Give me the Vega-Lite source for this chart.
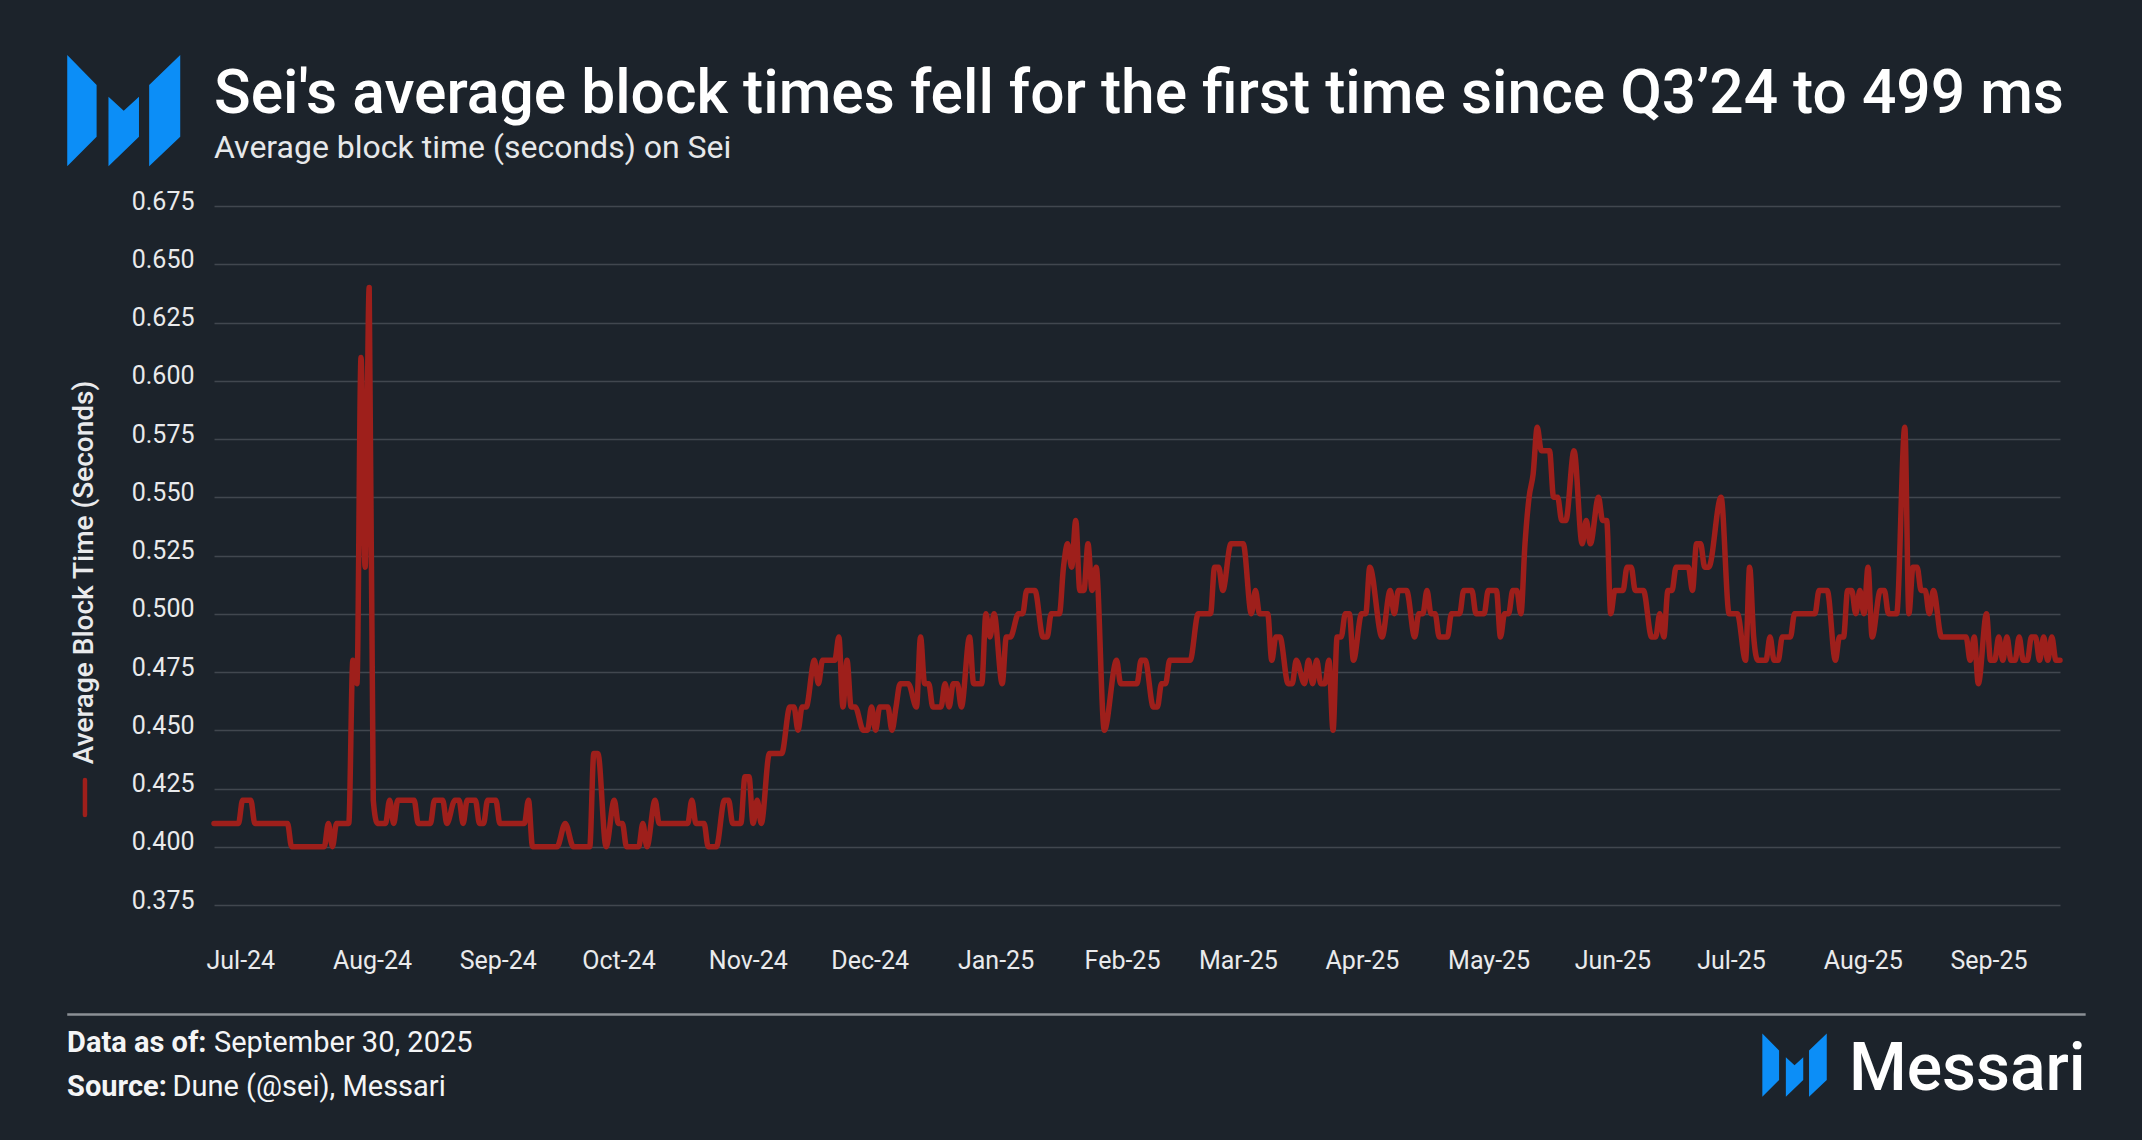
{
  "$schema": "https://vega.github.io/schema/vega-lite/v6.json",
  "width": 1846,
  "height": 699,
  "autosize": "none",
  "padding": {"left": 214, "top": 206, "right": 82, "bottom": 235},
  "background": "#1c232b",
  "title": {
    "text": "Sei's average block times fell for the first time since Q3’24 to 499 ms",
    "subtitle": "Average block time (seconds) on Sei",
    "anchor": "start",
    "frame": "group",
    "font": "Roboto",
    "fontSize": 60.5,
    "fontWeight": 500,
    "color": "#ffffff",
    "subtitleFont": "Roboto",
    "subtitleFontSize": 32,
    "subtitleColor": "#e6e8ea",
    "subtitlePadding": 7,
    "offset": -109
  },
  "datasets": {
    "sei": [
      {"date": "2024-07-01", "sec": 0.41}, {"date": "2024-07-07", "sec": 0.41}, {"date": "2024-07-08", "sec": 0.42}, {"date": "2024-07-10", "sec": 0.42},
      {"date": "2024-07-11", "sec": 0.41}, {"date": "2024-07-19", "sec": 0.41}, {"date": "2024-07-20", "sec": 0.40}, {"date": "2024-07-28", "sec": 0.40},
      {"date": "2024-07-29", "sec": 0.41}, {"date": "2024-07-30", "sec": 0.40}, {"date": "2024-07-31", "sec": 0.41}, {"date": "2024-08-03", "sec": 0.41},
      {"date": "2024-08-04", "sec": 0.48}, {"date": "2024-08-05", "sec": 0.47}, {"date": "2024-08-06", "sec": 0.61}, {"date": "2024-08-07", "sec": 0.52},
      {"date": "2024-08-08", "sec": 0.64}, {"date": "2024-08-09", "sec": 0.42}, {"date": "2024-08-10", "sec": 0.41}, {"date": "2024-08-12", "sec": 0.41},
      {"date": "2024-08-13", "sec": 0.42}, {"date": "2024-08-14", "sec": 0.41}, {"date": "2024-08-15", "sec": 0.42}, {"date": "2024-08-19", "sec": 0.42},
      {"date": "2024-08-20", "sec": 0.41}, {"date": "2024-08-23", "sec": 0.41}, {"date": "2024-08-24", "sec": 0.42}, {"date": "2024-08-26", "sec": 0.42},
      {"date": "2024-08-27", "sec": 0.41}, {"date": "2024-08-29", "sec": 0.42}, {"date": "2024-08-30", "sec": 0.42}, {"date": "2024-08-31", "sec": 0.41},
      {"date": "2024-09-01", "sec": 0.42}, {"date": "2024-09-03", "sec": 0.42}, {"date": "2024-09-04", "sec": 0.41}, {"date": "2024-09-05", "sec": 0.41},
      {"date": "2024-09-06", "sec": 0.42}, {"date": "2024-09-08", "sec": 0.42}, {"date": "2024-09-09", "sec": 0.41}, {"date": "2024-09-15", "sec": 0.41},
      {"date": "2024-09-16", "sec": 0.42}, {"date": "2024-09-17", "sec": 0.40}, {"date": "2024-09-23", "sec": 0.40}, {"date": "2024-09-25", "sec": 0.41},
      {"date": "2024-09-27", "sec": 0.40}, {"date": "2024-10-01", "sec": 0.40}, {"date": "2024-10-02", "sec": 0.44}, {"date": "2024-10-03", "sec": 0.44},
      {"date": "2024-10-05", "sec": 0.40}, {"date": "2024-10-07", "sec": 0.42}, {"date": "2024-10-08", "sec": 0.41}, {"date": "2024-10-09", "sec": 0.41},
      {"date": "2024-10-10", "sec": 0.40}, {"date": "2024-10-13", "sec": 0.40}, {"date": "2024-10-14", "sec": 0.41}, {"date": "2024-10-15", "sec": 0.40},
      {"date": "2024-10-17", "sec": 0.42}, {"date": "2024-10-18", "sec": 0.41}, {"date": "2024-10-25", "sec": 0.41}, {"date": "2024-10-26", "sec": 0.42},
      {"date": "2024-10-27", "sec": 0.41}, {"date": "2024-10-29", "sec": 0.41}, {"date": "2024-10-30", "sec": 0.40}, {"date": "2024-11-01", "sec": 0.40},
      {"date": "2024-11-03", "sec": 0.42}, {"date": "2024-11-04", "sec": 0.42}, {"date": "2024-11-05", "sec": 0.41}, {"date": "2024-11-07", "sec": 0.41},
      {"date": "2024-11-08", "sec": 0.43}, {"date": "2024-11-09", "sec": 0.43}, {"date": "2024-11-10", "sec": 0.41}, {"date": "2024-11-11", "sec": 0.42},
      {"date": "2024-11-12", "sec": 0.41}, {"date": "2024-11-14", "sec": 0.44}, {"date": "2024-11-17", "sec": 0.44}, {"date": "2024-11-19", "sec": 0.46},
      {"date": "2024-11-20", "sec": 0.46}, {"date": "2024-11-21", "sec": 0.45}, {"date": "2024-11-22", "sec": 0.46}, {"date": "2024-11-23", "sec": 0.46},
      {"date": "2024-11-25", "sec": 0.48}, {"date": "2024-11-26", "sec": 0.47}, {"date": "2024-11-27", "sec": 0.48}, {"date": "2024-11-30", "sec": 0.48},
      {"date": "2024-12-01", "sec": 0.49}, {"date": "2024-12-02", "sec": 0.46}, {"date": "2024-12-03", "sec": 0.48}, {"date": "2024-12-04", "sec": 0.46},
      {"date": "2024-12-05", "sec": 0.46}, {"date": "2024-12-07", "sec": 0.45}, {"date": "2024-12-08", "sec": 0.45}, {"date": "2024-12-09", "sec": 0.46},
      {"date": "2024-12-10", "sec": 0.45}, {"date": "2024-12-11", "sec": 0.46}, {"date": "2024-12-13", "sec": 0.46}, {"date": "2024-12-14", "sec": 0.45},
      {"date": "2024-12-15", "sec": 0.46}, {"date": "2024-12-16", "sec": 0.47}, {"date": "2024-12-18", "sec": 0.47}, {"date": "2024-12-20", "sec": 0.46},
      {"date": "2024-12-21", "sec": 0.49}, {"date": "2024-12-22", "sec": 0.47}, {"date": "2024-12-23", "sec": 0.47}, {"date": "2024-12-24", "sec": 0.46},
      {"date": "2024-12-26", "sec": 0.46}, {"date": "2024-12-27", "sec": 0.47}, {"date": "2024-12-28", "sec": 0.46}, {"date": "2024-12-29", "sec": 0.47},
      {"date": "2024-12-30", "sec": 0.47}, {"date": "2024-12-31", "sec": 0.46}, {"date": "2025-01-02", "sec": 0.49}, {"date": "2025-01-03", "sec": 0.47},
      {"date": "2025-01-05", "sec": 0.47}, {"date": "2025-01-06", "sec": 0.50}, {"date": "2025-01-07", "sec": 0.49}, {"date": "2025-01-08", "sec": 0.50},
      {"date": "2025-01-10", "sec": 0.47}, {"date": "2025-01-11", "sec": 0.49}, {"date": "2025-01-12", "sec": 0.49}, {"date": "2025-01-14", "sec": 0.50},
      {"date": "2025-01-15", "sec": 0.50}, {"date": "2025-01-16", "sec": 0.51}, {"date": "2025-01-18", "sec": 0.51}, {"date": "2025-01-20", "sec": 0.49},
      {"date": "2025-01-21", "sec": 0.49}, {"date": "2025-01-22", "sec": 0.50}, {"date": "2025-01-24", "sec": 0.50}, {"date": "2025-01-25", "sec": 0.52},
      {"date": "2025-01-26", "sec": 0.53}, {"date": "2025-01-27", "sec": 0.52}, {"date": "2025-01-28", "sec": 0.54}, {"date": "2025-01-29", "sec": 0.51},
      {"date": "2025-01-30", "sec": 0.51}, {"date": "2025-01-31", "sec": 0.53}, {"date": "2025-02-01", "sec": 0.51}, {"date": "2025-02-02", "sec": 0.52},
      {"date": "2025-02-04", "sec": 0.45}, {"date": "2025-02-07", "sec": 0.48}, {"date": "2025-02-08", "sec": 0.47}, {"date": "2025-02-12", "sec": 0.47},
      {"date": "2025-02-13", "sec": 0.48}, {"date": "2025-02-14", "sec": 0.48}, {"date": "2025-02-16", "sec": 0.46}, {"date": "2025-02-17", "sec": 0.46},
      {"date": "2025-02-18", "sec": 0.47}, {"date": "2025-02-19", "sec": 0.47}, {"date": "2025-02-20", "sec": 0.48}, {"date": "2025-02-25", "sec": 0.48},
      {"date": "2025-02-27", "sec": 0.50}, {"date": "2025-03-02", "sec": 0.50}, {"date": "2025-03-03", "sec": 0.52}, {"date": "2025-03-04", "sec": 0.52},
      {"date": "2025-03-05", "sec": 0.51}, {"date": "2025-03-07", "sec": 0.53}, {"date": "2025-03-10", "sec": 0.53}, {"date": "2025-03-12", "sec": 0.50},
      {"date": "2025-03-13", "sec": 0.51}, {"date": "2025-03-14", "sec": 0.50}, {"date": "2025-03-16", "sec": 0.50}, {"date": "2025-03-17", "sec": 0.48},
      {"date": "2025-03-18", "sec": 0.49}, {"date": "2025-03-19", "sec": 0.49}, {"date": "2025-03-21", "sec": 0.47}, {"date": "2025-03-22", "sec": 0.47},
      {"date": "2025-03-23", "sec": 0.48}, {"date": "2025-03-25", "sec": 0.47}, {"date": "2025-03-26", "sec": 0.48}, {"date": "2025-03-27", "sec": 0.47},
      {"date": "2025-03-28", "sec": 0.48}, {"date": "2025-03-29", "sec": 0.47}, {"date": "2025-03-30", "sec": 0.47}, {"date": "2025-03-31", "sec": 0.48},
      {"date": "2025-04-01", "sec": 0.45}, {"date": "2025-04-02", "sec": 0.49}, {"date": "2025-04-03", "sec": 0.49}, {"date": "2025-04-04", "sec": 0.50},
      {"date": "2025-04-05", "sec": 0.50}, {"date": "2025-04-06", "sec": 0.48}, {"date": "2025-04-08", "sec": 0.50}, {"date": "2025-04-09", "sec": 0.50},
      {"date": "2025-04-10", "sec": 0.52}, {"date": "2025-04-13", "sec": 0.49}, {"date": "2025-04-15", "sec": 0.51}, {"date": "2025-04-16", "sec": 0.50},
      {"date": "2025-04-17", "sec": 0.51}, {"date": "2025-04-19", "sec": 0.51}, {"date": "2025-04-21", "sec": 0.49}, {"date": "2025-04-22", "sec": 0.50},
      {"date": "2025-04-23", "sec": 0.50}, {"date": "2025-04-24", "sec": 0.51}, {"date": "2025-04-25", "sec": 0.50}, {"date": "2025-04-26", "sec": 0.50},
      {"date": "2025-04-27", "sec": 0.49}, {"date": "2025-04-29", "sec": 0.49}, {"date": "2025-04-30", "sec": 0.50}, {"date": "2025-05-02", "sec": 0.50},
      {"date": "2025-05-03", "sec": 0.51}, {"date": "2025-05-05", "sec": 0.51}, {"date": "2025-05-06", "sec": 0.50}, {"date": "2025-05-08", "sec": 0.50},
      {"date": "2025-05-09", "sec": 0.51}, {"date": "2025-05-11", "sec": 0.51}, {"date": "2025-05-12", "sec": 0.49}, {"date": "2025-05-13", "sec": 0.50},
      {"date": "2025-05-14", "sec": 0.50}, {"date": "2025-05-15", "sec": 0.51}, {"date": "2025-05-16", "sec": 0.51}, {"date": "2025-05-17", "sec": 0.50},
      {"date": "2025-05-18", "sec": 0.53}, {"date": "2025-05-19", "sec": 0.55}, {"date": "2025-05-20", "sec": 0.56}, {"date": "2025-05-21", "sec": 0.58},
      {"date": "2025-05-22", "sec": 0.57}, {"date": "2025-05-24", "sec": 0.57}, {"date": "2025-05-25", "sec": 0.55}, {"date": "2025-05-26", "sec": 0.55},
      {"date": "2025-05-27", "sec": 0.54}, {"date": "2025-05-28", "sec": 0.54}, {"date": "2025-05-30", "sec": 0.57}, {"date": "2025-06-01", "sec": 0.53},
      {"date": "2025-06-02", "sec": 0.54}, {"date": "2025-06-03", "sec": 0.53}, {"date": "2025-06-05", "sec": 0.55}, {"date": "2025-06-06", "sec": 0.54},
      {"date": "2025-06-07", "sec": 0.54}, {"date": "2025-06-08", "sec": 0.50}, {"date": "2025-06-09", "sec": 0.51}, {"date": "2025-06-11", "sec": 0.51},
      {"date": "2025-06-12", "sec": 0.52}, {"date": "2025-06-13", "sec": 0.52}, {"date": "2025-06-14", "sec": 0.51}, {"date": "2025-06-16", "sec": 0.51},
      {"date": "2025-06-18", "sec": 0.49}, {"date": "2025-06-19", "sec": 0.49}, {"date": "2025-06-20", "sec": 0.50}, {"date": "2025-06-21", "sec": 0.49},
      {"date": "2025-06-22", "sec": 0.51}, {"date": "2025-06-23", "sec": 0.51}, {"date": "2025-06-24", "sec": 0.52}, {"date": "2025-06-27", "sec": 0.52},
      {"date": "2025-06-28", "sec": 0.51}, {"date": "2025-06-29", "sec": 0.53}, {"date": "2025-06-30", "sec": 0.53}, {"date": "2025-07-01", "sec": 0.52},
      {"date": "2025-07-02", "sec": 0.52}, {"date": "2025-07-05", "sec": 0.55}, {"date": "2025-07-07", "sec": 0.50}, {"date": "2025-07-09", "sec": 0.50},
      {"date": "2025-07-11", "sec": 0.48}, {"date": "2025-07-12", "sec": 0.52}, {"date": "2025-07-13", "sec": 0.49}, {"date": "2025-07-14", "sec": 0.48},
      {"date": "2025-07-16", "sec": 0.48}, {"date": "2025-07-17", "sec": 0.49}, {"date": "2025-07-18", "sec": 0.48}, {"date": "2025-07-19", "sec": 0.48},
      {"date": "2025-07-20", "sec": 0.49}, {"date": "2025-07-22", "sec": 0.49}, {"date": "2025-07-23", "sec": 0.50}, {"date": "2025-07-28", "sec": 0.50},
      {"date": "2025-07-29", "sec": 0.51}, {"date": "2025-07-31", "sec": 0.51}, {"date": "2025-08-02", "sec": 0.48}, {"date": "2025-08-03", "sec": 0.49},
      {"date": "2025-08-04", "sec": 0.49}, {"date": "2025-08-05", "sec": 0.51}, {"date": "2025-08-06", "sec": 0.51}, {"date": "2025-08-07", "sec": 0.50},
      {"date": "2025-08-08", "sec": 0.51}, {"date": "2025-08-09", "sec": 0.50}, {"date": "2025-08-10", "sec": 0.52}, {"date": "2025-08-11", "sec": 0.49},
      {"date": "2025-08-13", "sec": 0.51}, {"date": "2025-08-14", "sec": 0.51}, {"date": "2025-08-15", "sec": 0.50}, {"date": "2025-08-17", "sec": 0.50},
      {"date": "2025-08-19", "sec": 0.58}, {"date": "2025-08-20", "sec": 0.50}, {"date": "2025-08-21", "sec": 0.52}, {"date": "2025-08-22", "sec": 0.52},
      {"date": "2025-08-23", "sec": 0.51}, {"date": "2025-08-24", "sec": 0.51}, {"date": "2025-08-25", "sec": 0.50}, {"date": "2025-08-26", "sec": 0.51},
      {"date": "2025-08-28", "sec": 0.49}, {"date": "2025-09-03", "sec": 0.49}, {"date": "2025-09-04", "sec": 0.48}, {"date": "2025-09-05", "sec": 0.49},
      {"date": "2025-09-06", "sec": 0.47}, {"date": "2025-09-08", "sec": 0.50}, {"date": "2025-09-09", "sec": 0.48}, {"date": "2025-09-10", "sec": 0.48},
      {"date": "2025-09-11", "sec": 0.49}, {"date": "2025-09-12", "sec": 0.48}, {"date": "2025-09-13", "sec": 0.49}, {"date": "2025-09-14", "sec": 0.48},
      {"date": "2025-09-15", "sec": 0.48}, {"date": "2025-09-16", "sec": 0.49}, {"date": "2025-09-17", "sec": 0.48}, {"date": "2025-09-18", "sec": 0.48},
      {"date": "2025-09-19", "sec": 0.49}, {"date": "2025-09-20", "sec": 0.49}, {"date": "2025-09-21", "sec": 0.48}, {"date": "2025-09-22", "sec": 0.49},
      {"date": "2025-09-23", "sec": 0.48}, {"date": "2025-09-24", "sec": 0.49}, {"date": "2025-09-25", "sec": 0.48}, {"date": "2025-09-26", "sec": 0.48}
    ]
  },
  "layer": [
    {
      "data": {"name": "sei"},
      "mark": {"type": "line", "interpolate": "monotone", "color": "#9e1f1b", "strokeWidth": 5.5, "strokeCap": "round", "strokeJoin": "round"},
      "encoding": {
        "x": {
          "field": "date",
          "type": "temporal",
          "scale": {"type": "utc", "domain": [{"year": 2024, "month": 7, "date": 1, "utc": true}, {"year": 2025, "month": 9, "date": 26, "utc": true}]},
          "axis": {
            "title": null,
            "format": "%b-%y",
            "tickCount": {"interval": "month", "step": 1},
            "labelAlign": "left",
            "labelFlush": false,
            "labelOffset": -8,
            "labelPadding": 43,
            "ticks": false,
            "tickSize": 0,
            "domain": false,
            "grid": false,
            "labelFont": "Roboto",
            "labelFontSize": 25,
            "labelColor": "#e9eaec"
          }
        },
        "y": {
          "field": "sec",
          "type": "quantitative",
          "scale": {"domain": [0.375, 0.675], "nice": false, "zero": false},
          "axis": {
            "title": "Average Block Time (Seconds)",
            "values": [0.375, 0.4, 0.425, 0.45, 0.475, 0.5, 0.525, 0.55, 0.575, 0.6, 0.625, 0.65, 0.675],
            "format": ".3f",
            "ticks": false,
            "tickSize": 0,
            "domain": false,
            "labelPadding": 20,
            "labelOffset": -5,
            "labelFont": "Roboto",
            "labelFontSize": 25,
            "labelColor": "#e9eaec",
            "gridColor": "#41474f",
            "gridWidth": 1.6,
            "titleFont": "Roboto",
            "titleFontSize": 28,
            "titleFontWeight": 500,
            "titleColor": "#e9eaec",
            "titleX": -130,
            "titleY": 366,
            "titleBaseline": "middle"
          }
        }
      }
    },
    {
      "data": {"values": [{}]},
      "mark": {"type": "rule", "color": "#9e1f1b", "strokeWidth": 4.5, "strokeCap": "round"},
      "encoding": {
        "x": {"datum": -0.0699, "type": "quantitative", "scale": {"domain": [0, 1]}, "axis": null},
        "y": {"datum": 0.1788, "type": "quantitative", "scale": {"domain": [0, 1]}, "axis": null},
        "y2": {"datum": 0.1288}
      }
    },
    {
      "data": {"values": [{}]},
      "mark": {
        "type": "point",
        "filled": true,
        "opacity": 1,
        "strokeWidth": 0,
        "color": "#0c8ef7",
        "size": 12769,
        "shape": "M-1,-0.99L-0.48,-0.46L-0.48,0.46L-1,0.98Z M-0.27,-0.25L0,0L0.27,-0.25L0.27,0.46L-0.27,0.98Z M0.45,-0.46L1,-0.99L1,0.46L0.45,0.98Z"
      },
      "encoding": {
        "x": {"datum": -0.0489, "type": "quantitative", "scale": {"domain": [0, 1]}, "axis": null},
        "y": {"datum": 1.1361, "type": "quantitative", "scale": {"domain": [0, 1]}, "axis": null}
      }
    },
    {
      "data": {"values": [{}]},
      "mark": {"type": "rule", "color": "#8b9096", "strokeWidth": 2.5},
      "encoding": {
        "x": {"datum": -0.0795, "type": "quantitative", "scale": {"domain": [0, 1]}, "axis": null},
        "x2": {"datum": 1.0139},
        "y": {"datum": -0.1567, "type": "quantitative", "scale": {"domain": [0, 1]}, "axis": null}
      }
    },
    {
      "data": {"values": [{"t": "Data as of:"}]},
      "mark": {"type": "text", "align": "left", "baseline": "alphabetic", "font": "Roboto", "fontSize": 29, "fontWeight": "bold", "color": "#f4f5f6"},
      "encoding": {
        "x": {"datum": -0.0796, "type": "quantitative", "scale": {"domain": [0, 1]}, "axis": null},
        "y": {"datum": -0.2107, "type": "quantitative", "scale": {"domain": [0, 1]}, "axis": null},
        "text": {"field": "t"}
      }
    },
    {
      "data": {"values": [{"t": "September 30, 2025"}]},
      "mark": {"type": "text", "align": "left", "baseline": "alphabetic", "font": "Roboto", "fontSize": 29, "color": "#f4f5f6"},
      "encoding": {
        "x": {"datum": 0, "type": "quantitative", "scale": {"domain": [0, 1]}, "axis": null},
        "y": {"datum": -0.2107, "type": "quantitative", "scale": {"domain": [0, 1]}, "axis": null},
        "text": {"field": "t"}
      }
    },
    {
      "data": {"values": [{"t": "Source:"}]},
      "mark": {"type": "text", "align": "left", "baseline": "alphabetic", "font": "Roboto", "fontSize": 29, "fontWeight": "bold", "color": "#f4f5f6"},
      "encoding": {
        "x": {"datum": -0.0796, "type": "quantitative", "scale": {"domain": [0, 1]}, "axis": null},
        "y": {"datum": -0.2728, "type": "quantitative", "scale": {"domain": [0, 1]}, "axis": null},
        "text": {"field": "t"}
      }
    },
    {
      "data": {"values": [{"t": "Dune (@sei), Messari"}]},
      "mark": {"type": "text", "align": "left", "baseline": "alphabetic", "font": "Roboto", "fontSize": 29, "color": "#f4f5f6"},
      "encoding": {
        "x": {"datum": -0.0225, "type": "quantitative", "scale": {"domain": [0, 1]}, "axis": null},
        "y": {"datum": -0.2728, "type": "quantitative", "scale": {"domain": [0, 1]}, "axis": null},
        "text": {"field": "t"}
      }
    },
    {
      "data": {"values": [{}]},
      "mark": {
        "type": "point",
        "filled": true,
        "opacity": 1,
        "strokeWidth": 0,
        "color": "#0c8ef7",
        "size": 4150,
        "shape": "M-1,-0.99L-0.48,-0.46L-0.48,0.46L-1,0.98Z M-0.27,-0.25L0,0L0.27,-0.25L0.27,0.46L-0.27,0.98Z M0.45,-0.46L1,-0.99L1,0.46L0.45,0.98Z"
      },
      "encoding": {
        "x": {"datum": 0.8562, "type": "quantitative", "scale": {"domain": [0, 1]}, "axis": null},
        "y": {"datum": -0.2293, "type": "quantitative", "scale": {"domain": [0, 1]}, "axis": null}
      }
    },
    {
      "data": {"values": [{"t": "Messari"}]},
      "mark": {"type": "text", "align": "right", "baseline": "alphabetic", "font": "Roboto", "fontSize": 66, "fontWeight": 500, "color": "#ffffff"},
      "encoding": {
        "x": {"datum": 1.0139, "type": "quantitative", "scale": {"domain": [0, 1]}, "axis": null},
        "y": {"datum": -0.2647, "type": "quantitative", "scale": {"domain": [0, 1]}, "axis": null},
        "text": {"field": "t"}
      }
    }
  ],
  "resolve": {"scale": {"x": "independent", "y": "independent"}},
  "config": {
    "view": {"stroke": null}
  }
}
